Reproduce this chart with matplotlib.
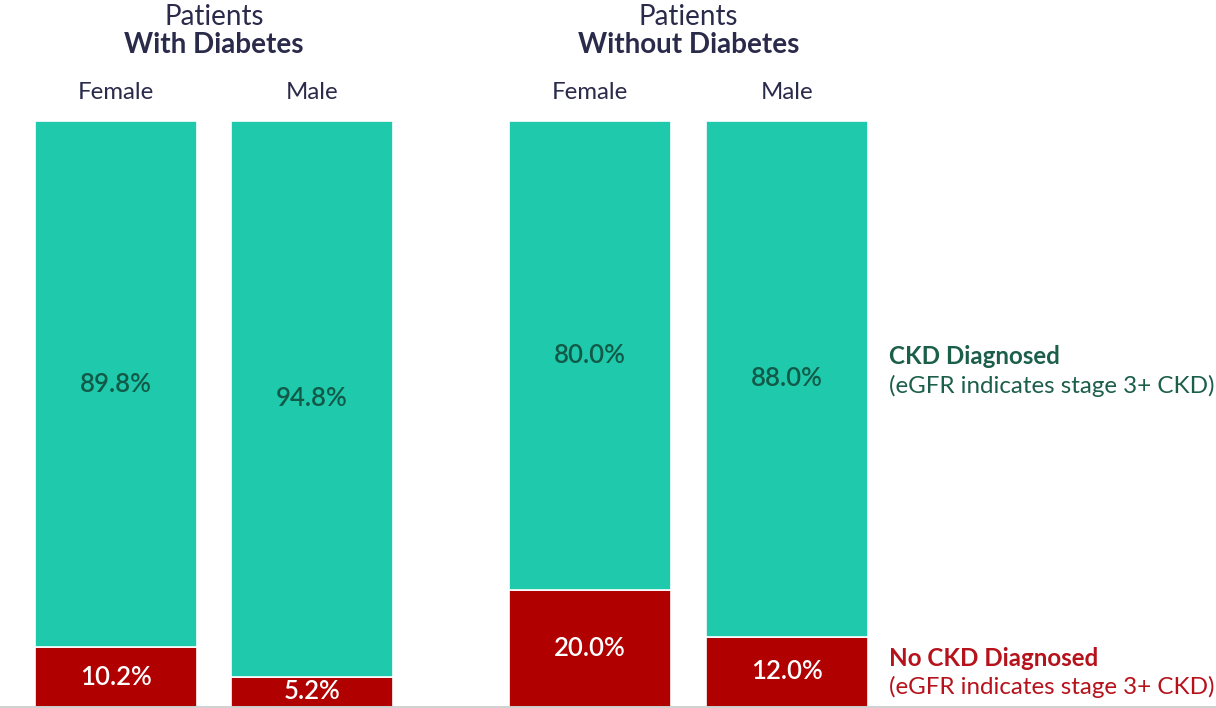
import matplotlib
matplotlib.use("Agg")
import matplotlib.pyplot as plt
from matplotlib import font_manager as fm

groups = ["With Diabetes", "Without Diabetes"]
sexes = ["Female", "Male"]
ckd_diagnosed = [89.8, 94.8, 80.0, 88.0]
no_ckd = [10.2, 5.2, 20.0, 12.0]
ckd_labels = ["89.8%", "94.8%", "80.0%", "88.0%"]
no_ckd_labels = ["10.2%", "5.2%", "20.0%", "12.0%"]

TEAL = "#1ec9ac"
RED = "#b00000"
NAVY = "#2a2a4a"
DKGREEN = "#1b5e4a"
PCTGREEN = "#125a48"
LEGRED = "#b5121b"

plt.rcParams['font.family'] = ['Lato', 'DejaVu Sans']

# look for a medium/semibold Lato face for the percentage labels
pct_font = None
for f in fm.findSystemFonts():
    n = f.lower()
    if "lato" in n and ("semibold" in n or "medium" in n) and "italic" not in n:
        pct_font = fm.FontProperties(fname=f, size=18.5)
        break
if pct_font is None:
    pct_font = fm.FontProperties(family="Lato", weight="bold", size=18)

W, H = 1216, 708
fig = plt.figure(figsize=(W / 100, H / 100), dpi=100)
ax = fig.add_axes([0, 0, 1, 1])
px = 100 / 586.0
ax.set_xlim(0, W)
ax.set_ylim(-1 * px, 100 + 121 * px)
ax.axis("off")

def ypx(p):
    return (707 - p) * px

centers = [116, 312, 590, 787]
width = 162

for i, c in enumerate(centers):
    ax.bar(c, no_ckd[i], width=width, bottom=0, color=RED,
           edgecolor="white", linewidth=1.2)
    ax.bar(c, ckd_diagnosed[i], width=width, bottom=no_ckd[i], color=TEAL,
           edgecolor="white", linewidth=1.2)
    ax.text(c, no_ckd[i] + ckd_diagnosed[i] / 2, ckd_labels[i], ha="center",
            va="center", color=PCTGREEN, fontproperties=pct_font)
    ax.text(c, no_ckd[i] / 2, no_ckd_labels[i], ha="center", va="center",
            color="white", fontproperties=pct_font)
    ax.text(c, ypx(93), sexes[i % 2], ha="center", va="center",
            color=NAVY, fontsize=17.3)

for g, name in enumerate(groups):
    gc = (centers[2 * g] + centers[2 * g + 1]) / 2
    ax.text(gc, ypx(17), "Patients", ha="center", va="center",
            color=NAVY, fontsize=20)
    ax.text(gc, ypx(45), name, ha="center", va="center",
            color=NAVY, fontsize=20, fontweight="bold")

ax.text(889, ypx(357), "CKD Diagnosed", ha="left", va="center",
        color=DKGREEN, fontsize=17.4, fontweight="bold")
ax.text(889, ypx(386), "(eGFR indicates stage 3+ CKD)", ha="left",
        va="center", color=DKGREEN, fontsize=17.4)
ax.text(889, ypx(658), "No CKD Diagnosed", ha="left", va="center",
        color=LEGRED, fontsize=17.4, fontweight="bold")
ax.text(889, ypx(687), "(eGFR indicates stage 3+ CKD)", ha="left",
        va="center", color=LEGRED, fontsize=17.4)

ax.axhline(0, color="#c8c8c8", linewidth=1.2)

fig.savefig("out.png", dpi=100)
